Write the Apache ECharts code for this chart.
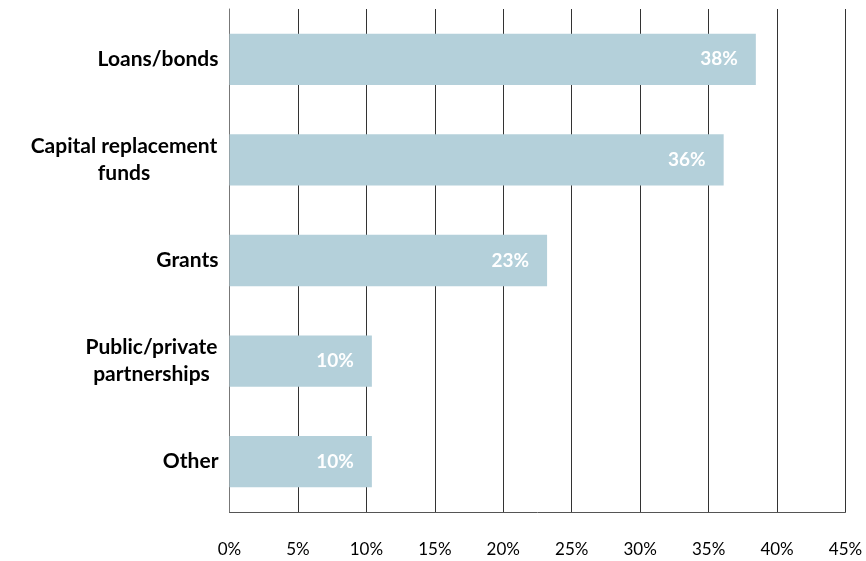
<!DOCTYPE html>
<html>
<head>
<meta charset="utf-8">
<script src="https://cdn.jsdelivr.net/npm/echarts@6/dist/echarts.min.js"></script>
<style>
  html, body { margin: 0; padding: 0; background: #fff; }
  #chart { width: 866px; height: 561px; }
</style>
</head>
<body>
<div id="chart"></div>
<script>
// Funding sources, listed top to bottom
const categories = ['Loans/bonds', 'Capital replacement\nfunds', 'Grants', 'Public/private\npartnerships', 'Other'];
// Share of respondents (%)
const shares = [38.45, 36.1, 23.2, 10.4, 10.4];
// X-axis ticks
const xTicks = [0, 5, 10, 15, 20, 25, 30, 35, 40, 45];

const FONT = 'Lato, "Open Sans", sans-serif';
const LABEL_SIZE = 21;
const LABEL_LH = 27;

// Multi-line category names have their lines centred within the block,
// while the block itself sits right-aligned against the axis.
const measureCtx = document.createElement('canvas').getContext('2d');
measureCtx.font = 'bold ' + LABEL_SIZE + 'px ' + FONT;
const rich = {};
const labelText = {};
categories.forEach((c, i) => {
  const lines = c.split('\n');
  if (lines.length === 1) { labelText[c] = c; return; }
  const w = Math.ceil(Math.max(...lines.map(l => measureCtx.measureText(l).width))) + 2;
  const key = 'c' + i;
  rich[key] = { width: w, align: 'center', fontWeight: 'bold', fontSize: LABEL_SIZE, fontFamily: FONT, color: '#000', lineHeight: LABEL_LH };
  labelText[c] = lines.map(l => '{' + key + '|' + l + '}').join('\n');
});

const chart = echarts.init(document.getElementById('chart'), null, { renderer: 'canvas' });
chart.setOption({
  animation: false,
  grid: { left: 229.5, right: 20.5, top: 9, bottom: 49, containLabel: false },
  xAxis: {
    type: 'value',
    min: xTicks[0],
    max: xTicks[xTicks.length - 1],
    interval: xTicks[1] - xTicks[0],
    axisLine: { show: true, lineStyle: { color: '#555', width: 1 } },
    axisTick: { show: false },
    splitLine: { show: true, lineStyle: { color: '#333', width: 1 } },
    axisLabel: {
      formatter: v => v + '%',
      fontFamily: FONT,
      fontSize: 17,
      color: '#000',
      margin: 29
    }
  },
  yAxis: {
    type: 'category',
    data: categories,
    inverse: true,
    axisLine: { show: true, lineStyle: { color: '#777', width: 1 } },
    axisTick: { show: false },
    axisLabel: {
      formatter: v => labelText[v],
      fontFamily: FONT,
      fontSize: LABEL_SIZE,
      fontWeight: 'bold',
      color: '#000',
      lineHeight: LABEL_LH,
      margin: 11,
      align: 'right',
      rich: rich
    }
  },
  series: [{
    type: 'bar',
    data: shares,
    barWidth: '51%',
    itemStyle: { color: '#b4d0da' },
    label: {
      show: true,
      position: 'insideRight',
      distance: 18,
      formatter: p => Math.round(p.value) + '%',
      color: '#fff',
      fontFamily: FONT,
      fontWeight: 'bold',
      fontSize: 19
    }
  }]
});
</script>
</body>
</html>
